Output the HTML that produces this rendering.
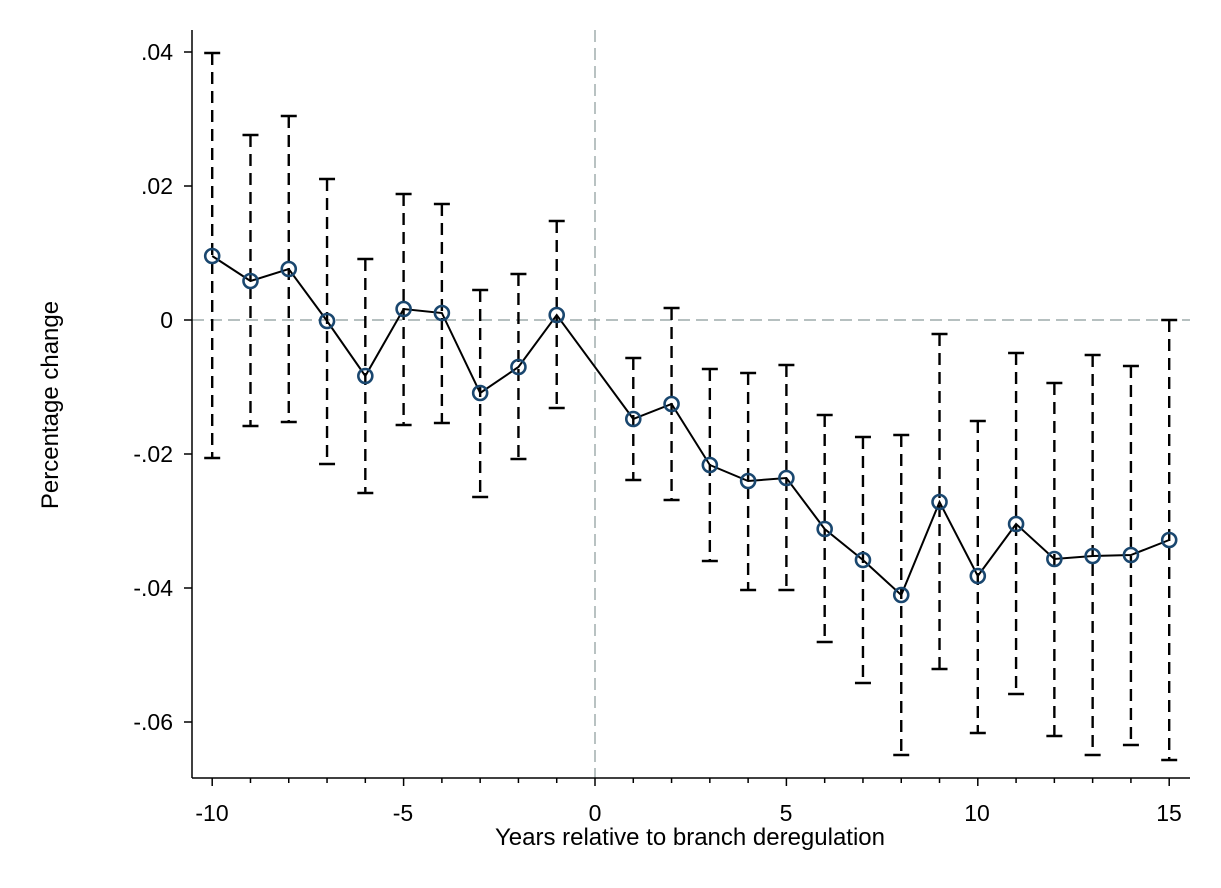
<!DOCTYPE html>
<html><head><style>body{margin:0;background:#fff}svg{display:block}text{font-family:"Liberation Sans",sans-serif;fill:#000}</style></head>
<body>
<svg width="1221" height="888" viewBox="0 0 1221 888" xmlns="http://www.w3.org/2000/svg">
<rect width="1221" height="888" fill="#fff"/>
<g stroke="#8a9a9a" stroke-width="1.2" stroke-dasharray="12,6" fill="none">
<line x1="192" y1="320" x2="1190" y2="320"/>
<line x1="595" y1="30" x2="595" y2="778"/>
</g>
<g stroke="#000" stroke-width="1.5" id="ax">
<line x1="192" y1="30" x2="192" y2="778"/>
<line x1="192" y1="778" x2="1190" y2="778"/>
<line x1="184" y1="52" x2="192" y2="52"/><line x1="184" y1="186" x2="192" y2="186"/><line x1="184" y1="320" x2="192" y2="320"/><line x1="184" y1="454" x2="192" y2="454"/><line x1="184" y1="588" x2="192" y2="588"/><line x1="184" y1="722" x2="192" y2="722"/>
</g>
<g font-size="23" text-anchor="end">
<text x="173" y="60">.04</text><text x="173" y="194">.02</text><text x="173" y="328">0</text><text x="173" y="462">-.02</text><text x="173" y="596">-.04</text><text x="173" y="730">-.06</text>
</g>
<g font-size="23" text-anchor="middle">
<text x="212" y="821">-10</text><text x="403" y="821">-5</text><text x="595" y="821">0</text><text x="786" y="821">5</text><text x="977" y="821">10</text><text x="1169" y="821">15</text>
</g>
<g font-size="24" text-anchor="middle">
<text x="690" y="845">Years relative to branch deregulation</text>
<text transform="translate(58,405) rotate(-90)">Percentage change</text>
</g>
<g id="ci" stroke="#000" stroke-width="2.4" fill="none"></g>
<polyline id="ln" fill="none" stroke="#000" stroke-width="2"/>
<g id="mk" stroke="#1a476f" stroke-width="2.6" fill="none"></g>
<script>
var d=[[-10,256,53,458],[-9,281,135,426],[-8,269,116,422],[-7,321,179,464],[-6,376,259,493],[-5,309,194,425],[-4,313,204,423],[-3,393,290,497],[-2,367,274,459],[-1,315,221,408],[1,419,358,480],[2,404,308,500],[3,465,369,561],[4,481,373,590],[5,478,365,590],[6,529,415,642],[7,560,437,683],[8,595,435,755],[9,502,334,669],[10,576,421,733],[11,524,353,694],[12,559,383,736],[13,556,355,755],[14,555,366,745],[15,540,320,760]];
var ns="http://www.w3.org/2000/svg",ci=document.getElementById('ci'),mk=document.getElementById('mk'),ax=document.getElementById('ax'),pts=[];
function L(g,a,b,c,e,da){var l=document.createElementNS(ns,'line');l.setAttribute('x1',a);l.setAttribute('y1',b);l.setAttribute('x2',c);l.setAttribute('y2',e);if(da)l.setAttribute('stroke-dasharray',da);g.appendChild(l);}
for(var i=-10;i<=15;i++){var tx=595+i*38.28;if(i%5)L(ax,tx,778,tx,783);else L(ax,tx,778,tx,786);}
d.forEach(function(p){var x=595+p[0]*38.28;L(ci,x,p[2],x,p[3],'12,7');L(ci,x-8,p[2],x+8,p[2]);L(ci,x-8,p[3],x+8,p[3]);pts.push(x+','+p[1]);
var c=document.createElementNS(ns,'circle');c.setAttribute('cx',x);c.setAttribute('cy',p[1]);c.setAttribute('r',7);mk.appendChild(c);});
document.getElementById('ln').setAttribute('points',pts.join(' '));
</script>
</svg>
</body></html>
